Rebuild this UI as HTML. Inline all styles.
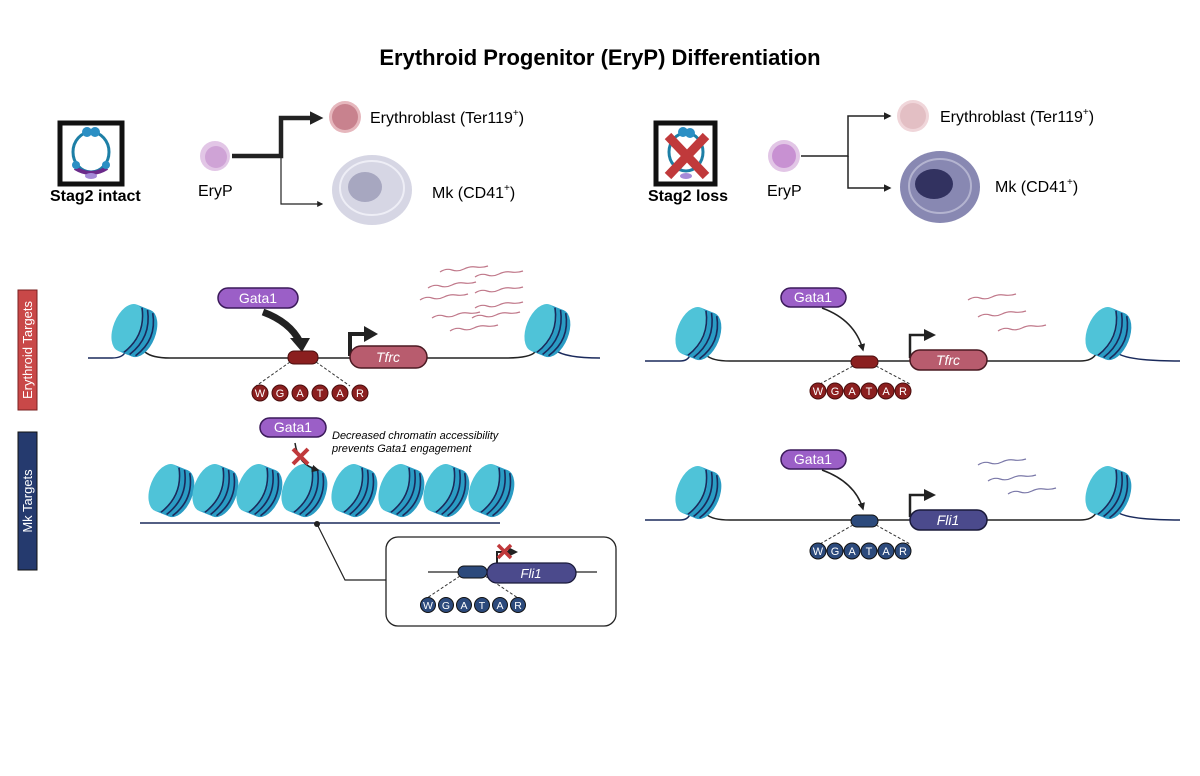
<!DOCTYPE html>
<html><head><meta charset="utf-8"><style>
html,body{margin:0;padding:0;background:#fff;}
svg{display:block;font-family:"Liberation Sans",Arial,sans-serif;}
</style></head><body>
<svg width="1200" height="776" viewBox="0 0 1200 776" xmlns="http://www.w3.org/2000/svg">
<defs>
  <marker id="ah" viewBox="0 0 10 10" refX="8" refY="5" markerWidth="5" markerHeight="5" orient="auto"><path d="M0,0 L10,5 L0,10 z" fill="#222"/></marker>
  <marker id="ahb" viewBox="0 0 10 10" refX="6" refY="5" markerWidth="3" markerHeight="3" orient="auto"><path d="M0,0 L10,5 L0,10 z" fill="#222"/></marker>
  <g id="nuc">
    <g transform="rotate(22)">
      <ellipse cx="9" cy="0" rx="14" ry="25" fill="#2a9cc4"/>
      <rect x="-6" y="-25" width="15" height="50" fill="#2a9cc4"/>
      <ellipse cx="-6" cy="0" rx="14" ry="25" fill="#4fc3d8"/>
      <path d="M0,-24 Q14,0 0,24" fill="none" stroke="#1a2a5c" stroke-width="1.6"/>
      <path d="M6,-24 Q20,0 6,24" fill="none" stroke="#1a2a5c" stroke-width="1.6"/>
      <path d="M12,-23 Q26,0 12,23" fill="none" stroke="#1a2a5c" stroke-width="1.6"/>
    </g>
  </g>
  <g id="mrna">
    <path d="M0,0 q6,-4 12,-2 t12,-1 t12,-2 t12,-1" fill="none" stroke-width="1.2"/>
  </g>
</defs>

<text x="600" y="65" text-anchor="middle" font-size="22" font-weight="bold">Erythroid Progenitor (EryP) Differentiation</text>

<!-- LEFT TOP -->
<rect x="60" y="123" width="62" height="61" fill="#fff" stroke="#111" stroke-width="5"/>
<ellipse cx="91" cy="152" rx="18" ry="20" fill="none" stroke="#1d7fa6" stroke-width="3"/>
<circle cx="87" cy="132" r="5" fill="#2b8fc4"/><circle cx="95" cy="132" r="5" fill="#2b8fc4"/>
<path d="M75,168 Q91,178 107,168" stroke="#6a2a8a" stroke-width="4" fill="none"/>
<ellipse cx="91" cy="176" rx="6" ry="3" fill="#a58ad8"/>
<circle cx="76" cy="165" r="4" fill="#2b8fc4"/><circle cx="106" cy="165" r="4" fill="#2b8fc4"/>
<text x="50" y="201" font-size="16" font-weight="bold">Stag2 intact</text>

<circle cx="215" cy="156" r="15" fill="#e2c6e6"/><circle cx="216" cy="157" r="11" fill="#cfa3d6"/>
<text x="198" y="196" font-size="16">EryP</text>
<path d="M232,156 H281 V118 H318" fill="none" stroke="#222" stroke-width="4.5" marker-end="url(#ahb)"/>
<path d="M281,156 V204 H322" fill="none" stroke="#222" stroke-width="1.2" marker-end="url(#ah)"/>
<circle cx="345" cy="117" r="16" fill="#e6b7bd"/><circle cx="345" cy="117" r="13" fill="#c8828e"/>
<text x="370" y="123" font-size="16">Erythroblast (Ter119<tspan font-size="10" dy="-7">+</tspan><tspan dy="7">)</tspan></text>
<ellipse cx="372" cy="190" rx="40" ry="35" fill="#d6d6e4"/>
<ellipse cx="372" cy="188" rx="32" ry="27" fill="none" stroke="#eeeef6" stroke-width="2"/>
<ellipse cx="365" cy="187" rx="17" ry="15" fill="#a7a7c0"/>
<text x="432" y="198" font-size="16">Mk (CD41<tspan font-size="10" dy="-7">+</tspan><tspan dy="7">)</tspan></text>

<!-- RIGHT TOP -->
<rect x="656" y="123" width="59" height="61" fill="#fff" stroke="#111" stroke-width="5"/>
<ellipse cx="686" cy="152" rx="17" ry="19" fill="none" stroke="#1d7fa6" stroke-width="3"/>
<circle cx="683" cy="132" r="5" fill="#2b8fc4"/><circle cx="690" cy="133" r="5" fill="#2b8fc4"/>
<ellipse cx="686" cy="176" rx="6" ry="3" fill="#a58ad8"/>
<path d="M668,136 L706,176 M706,136 L668,176" stroke="#c0393b" stroke-width="9"/>
<text x="648" y="201" font-size="16" font-weight="bold">Stag2 loss</text>

<circle cx="784" cy="156" r="16" fill="#e2c6e6"/><circle cx="784" cy="156" r="12" fill="#c891d2"/>
<text x="767" y="196" font-size="16">EryP</text>
<path d="M801,156 H848 V116 H890" fill="none" stroke="#222" stroke-width="1.5" marker-end="url(#ah)"/>
<path d="M848,156 V188 H890" fill="none" stroke="#222" stroke-width="1.5" marker-end="url(#ah)"/>
<circle cx="913" cy="116" r="16" fill="#f0d6da"/><circle cx="913" cy="116" r="13" fill="#e3bfc4"/>
<text x="940" y="122" font-size="16">Erythroblast (Ter119<tspan font-size="10" dy="-7">+</tspan><tspan dy="7">)</tspan></text>
<ellipse cx="940" cy="187" rx="40" ry="36" fill="#8888b2"/>
<ellipse cx="940" cy="186" rx="31" ry="27" fill="none" stroke="#b4b4d0" stroke-width="2"/>
<ellipse cx="934" cy="184" rx="19" ry="15" fill="#323260"/>
<text x="995" y="192" font-size="16">Mk (CD41<tspan font-size="10" dy="-7">+</tspan><tspan dy="7">)</tspan></text>

<!-- side labels -->
<rect x="18" y="290" width="19" height="120" fill="#c94848" stroke="#7a2020"/>
<text transform="translate(32,350) rotate(-90)" text-anchor="middle" font-size="13" fill="#fff">Erythroid Targets</text>
<rect x="18" y="432" width="19" height="138" fill="#253a6e" stroke="#111"/>
<text transform="translate(32,501) rotate(-90)" text-anchor="middle" font-size="13" fill="#fff">Mk Targets</text>

<!-- ERYTHROID LEFT -->
<path d="M88,358 H112 Q124,358 126,350" stroke="#1a2a5c" stroke-width="1.5" fill="none"/>
<path d="M145,352 Q152,358 170,358 H505 Q530,358 535,352" stroke="#222" stroke-width="1.5" fill="none"/>
<path d="M555,350 Q565,358 600,358" stroke="#1a2a5c" stroke-width="1.5" fill="none"/>
<use href="#nuc" x="133" y="330"/>
<use href="#nuc" x="546" y="330"/>
<rect x="218" y="288" width="80" height="20" rx="10" fill="#9b5fc7" stroke="#3b1a5a" stroke-width="1.5"/>
<text x="258" y="303" text-anchor="middle" font-size="14" fill="#fff">Gata1</text>
<path d="M263,312 Q290,322 300,342" fill="none" stroke="#222" stroke-width="7"/>
<path d="M290,338 L310,338 L302,352 z" fill="#222"/>
<rect x="288" y="351" width="30" height="13" rx="6" fill="#8b1f1f" stroke="#4a0d0d"/>
<path d="M290,362 L256,386 M316,362 L350,386" stroke="#333" stroke-dasharray="3,2"/>
<g stroke="#4a0d0d">
<circle cx="260" cy="393" r="8" fill="#8b1f1f"/><circle cx="280" cy="393" r="8" fill="#8b1f1f"/><circle cx="300" cy="393" r="8" fill="#8b1f1f"/><circle cx="320" cy="393" r="8" fill="#8b1f1f"/><circle cx="340" cy="393" r="8" fill="#8b1f1f"/><circle cx="360" cy="393" r="8" fill="#8b1f1f"/>
</g>
<g font-size="11" fill="#fff" text-anchor="middle"><text x="260" y="397">W</text><text x="280" y="397">G</text><text x="300" y="397">A</text><text x="320" y="397">T</text><text x="340" y="397">A</text><text x="360" y="397">R</text></g>
<path d="M350,356 V334 H366" fill="none" stroke="#222" stroke-width="4"/>
<path d="M364,326 L378,334 L364,342 z" fill="#222"/>
<rect x="350" y="346" width="77" height="22" rx="11" fill="#b85c6e" stroke="#4a1a22" stroke-width="1.5"/>
<text x="388" y="362" text-anchor="middle" font-size="14" font-style="italic" fill="#fff">Tfrc</text>
<g stroke="#c0788a">
<use href="#mrna" x="440" y="272"/><use href="#mrna" x="475" y="277"/>
<use href="#mrna" x="428" y="288"/><use href="#mrna" x="475" y="293"/>
<use href="#mrna" x="420" y="300"/><use href="#mrna" x="475" y="308"/>
<use href="#mrna" x="432" y="318"/><use href="#mrna" x="472" y="318"/>
<use href="#mrna" x="450" y="331"/>
</g>

<!-- ERYTHROID RIGHT -->
<path d="M645,361 H680 Q688,361 690,355" stroke="#1a2a5c" stroke-width="1.5" fill="none"/>
<path d="M706,355 Q712,361 730,361 H1080 Q1092,361 1096,354" stroke="#222" stroke-width="1.5" fill="none"/>
<path d="M1116,352 Q1125,361 1180,361" stroke="#1a2a5c" stroke-width="1.5" fill="none"/>
<use href="#nuc" x="697" y="333"/>
<use href="#nuc" x="1107" y="333"/>
<rect x="781" y="288" width="65" height="19" rx="9.5" fill="#9b5fc7" stroke="#3b1a5a" stroke-width="1.5"/>
<text x="813" y="302" text-anchor="middle" font-size="14" fill="#fff">Gata1</text>
<path d="M822,308 Q855,320 863,350" fill="none" stroke="#222" stroke-width="1.5" marker-end="url(#ah)"/>
<rect x="851" y="356" width="27" height="12" rx="6" fill="#8b1f1f" stroke="#4a0d0d"/>
<path d="M853,366 L820,384 M876,366 L910,384" stroke="#333" stroke-dasharray="3,2"/>
<g stroke="#4a0d0d"><circle cx="818" cy="391" r="8" fill="#8b1f1f"/><circle cx="835" cy="391" r="8" fill="#8b1f1f"/><circle cx="852" cy="391" r="8" fill="#8b1f1f"/><circle cx="869" cy="391" r="8" fill="#8b1f1f"/><circle cx="886" cy="391" r="8" fill="#8b1f1f"/><circle cx="903" cy="391" r="8" fill="#8b1f1f"/></g>
<g font-size="11" fill="#fff" text-anchor="middle"><text x="818" y="395">W</text><text x="835" y="395">G</text><text x="852" y="395">A</text><text x="869" y="395">T</text><text x="886" y="395">A</text><text x="903" y="395">R</text></g>
<path d="M910,358 V335 H925" fill="none" stroke="#222" stroke-width="2.5"/>
<path d="M924,329 L936,335 L924,341 z" fill="#222"/>
<rect x="910" y="350" width="77" height="20" rx="10" fill="#b85c6e" stroke="#4a1a22" stroke-width="1.5"/>
<text x="948" y="365" text-anchor="middle" font-size="14" font-style="italic" fill="#fff">Tfrc</text>
<g stroke="#c0788a"><use href="#mrna" x="968" y="300"/><use href="#mrna" x="978" y="317"/><use href="#mrna" x="998" y="331"/></g>

<!-- MK LEFT -->
<rect x="260" y="418" width="66" height="19" rx="9.5" fill="#9b5fc7" stroke="#3b1a5a" stroke-width="1.5"/>
<text x="293" y="432" text-anchor="middle" font-size="14" fill="#fff">Gata1</text>
<text x="332" y="439" font-size="11" font-style="italic">Decreased chromatin accessibility</text>
<text x="332" y="452" font-size="11" font-style="italic">prevents Gata1 engagement</text>
<path d="M140,523 H500" stroke="#1a2a5c" stroke-width="1.5"/>
<g>
<use href="#nuc" x="170" y="490"/><use href="#nuc" x="214" y="490"/><use href="#nuc" x="258" y="490"/><use href="#nuc" x="303" y="490"/>
<use href="#nuc" x="353" y="490"/><use href="#nuc" x="400" y="490"/><use href="#nuc" x="445" y="490"/><use href="#nuc" x="490" y="490"/>
</g>
<path d="M295,443 Q298,465 318,470" fill="none" stroke="#222" stroke-width="1.5" marker-end="url(#ah)"/>
<path d="M293,449 L308,464 M308,449 L293,464" stroke="#c0393b" stroke-width="4"/>
<circle cx="317" cy="524" r="3" fill="#222"/>
<path d="M317,524 L345,580 H386" fill="none" stroke="#222" stroke-width="1.2"/>
<rect x="386" y="537" width="230" height="89" rx="12" fill="#fff" stroke="#222" stroke-width="1.3"/>
<path d="M428,572 H597" stroke="#222" stroke-width="1.2"/>
<rect x="458" y="566" width="29" height="12" rx="6" fill="#2c4a7c" stroke="#111"/>
<path d="M460,576 L427,598 M485,576 L518,598" stroke="#333" stroke-dasharray="3,2"/>
<g stroke="#111"><circle cx="428" cy="605" r="7.5" fill="#2c4a7c"/><circle cx="446" cy="605" r="7.5" fill="#2c4a7c"/><circle cx="464" cy="605" r="7.5" fill="#2c4a7c"/><circle cx="482" cy="605" r="7.5" fill="#2c4a7c"/><circle cx="500" cy="605" r="7.5" fill="#2c4a7c"/><circle cx="518" cy="605" r="7.5" fill="#2c4a7c"/></g>
<g font-size="10.5" fill="#fff" text-anchor="middle"><text x="428" y="609">W</text><text x="446" y="609">G</text><text x="464" y="609">A</text><text x="482" y="609">T</text><text x="500" y="609">A</text><text x="518" y="609">R</text></g>
<path d="M497,570 V552 H510" fill="none" stroke="#222" stroke-width="2"/>
<path d="M508,547 L518,552 L508,557 z" fill="#222"/>
<path d="M498,545 L511,558 M511,545 L498,558" stroke="#c0393b" stroke-width="3.5"/>
<rect x="487" y="563" width="89" height="20" rx="10" fill="#4b4a8c" stroke="#1a1a3a" stroke-width="1.3"/>
<text x="531" y="578" text-anchor="middle" font-size="13" font-style="italic" fill="#fff">Fli1</text>

<!-- MK RIGHT -->
<path d="M645,520 H680 Q688,520 690,514" stroke="#1a2a5c" stroke-width="1.5" fill="none"/>
<path d="M706,514 Q712,520 730,520 H1080 Q1092,520 1096,513" stroke="#222" stroke-width="1.5" fill="none"/>
<path d="M1116,511 Q1125,520 1180,520" stroke="#1a2a5c" stroke-width="1.5" fill="none"/>
<use href="#nuc" x="697" y="492"/>
<use href="#nuc" x="1107" y="492"/>
<rect x="781" y="450" width="65" height="19" rx="9.5" fill="#9b5fc7" stroke="#3b1a5a" stroke-width="1.5"/>
<text x="813" y="464" text-anchor="middle" font-size="14" fill="#fff">Gata1</text>
<path d="M822,470 Q855,482 863,509" fill="none" stroke="#222" stroke-width="1.5" marker-end="url(#ah)"/>
<rect x="851" y="515" width="27" height="12" rx="6" fill="#2c4a7c" stroke="#111"/>
<path d="M853,525 L820,544 M876,525 L910,544" stroke="#333" stroke-dasharray="3,2"/>
<g stroke="#111"><circle cx="818" cy="551" r="8" fill="#2c4a7c"/><circle cx="835" cy="551" r="8" fill="#2c4a7c"/><circle cx="852" cy="551" r="8" fill="#2c4a7c"/><circle cx="869" cy="551" r="8" fill="#2c4a7c"/><circle cx="886" cy="551" r="8" fill="#2c4a7c"/><circle cx="903" cy="551" r="8" fill="#2c4a7c"/></g>
<g font-size="11" fill="#fff" text-anchor="middle"><text x="818" y="555">W</text><text x="835" y="555">G</text><text x="852" y="555">A</text><text x="869" y="555">T</text><text x="886" y="555">A</text><text x="903" y="555">R</text></g>
<path d="M910,517 V495 H925" fill="none" stroke="#222" stroke-width="2.5"/>
<path d="M924,489 L936,495 L924,501 z" fill="#222"/>
<rect x="910" y="510" width="77" height="20" rx="10" fill="#4b4a8c" stroke="#1a1a3a" stroke-width="1.5"/>
<text x="948" y="525" text-anchor="middle" font-size="14" font-style="italic" fill="#fff">Fli1</text>
<g stroke="#7a78a8"><use href="#mrna" x="978" y="465"/><use href="#mrna" x="988" y="481"/><use href="#mrna" x="1008" y="494"/></g>
</svg>
</body></html>
